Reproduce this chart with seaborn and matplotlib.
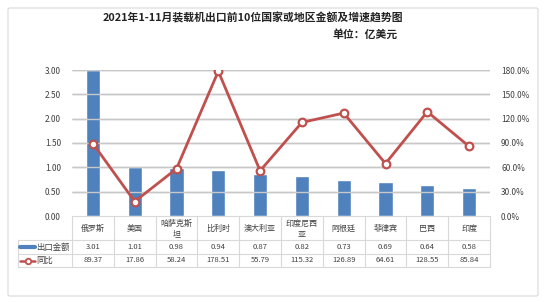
import matplotlib
matplotlib.use("Agg")
import matplotlib.pyplot as plt
import seaborn as sns
import numpy as np
import pandas as pd
from matplotlib.patches import FancyBboxPatch
from matplotlib.lines import Line2D
from matplotlib.ticker import FuncFormatter

categories = ["俄罗斯", "美国", "哈萨克斯\n坦", "比利时", "澳大利亚", "印度尼西\n亚", "阿根廷", "菲律宾", "巴西", "印度"]
export_values = [3.01, 1.01, 0.98, 0.94, 0.87, 0.82, 0.73, 0.69, 0.64, 0.58]
yoy_values = [89.37, 17.86, 58.24, 178.51, 55.79, 115.32, 126.89, 64.61, 128.55, 85.84]
series_names = ["出口金额", "同比"]
title = "2021年1-11月装载机出口前10位国家或地区金额及增速趋势图"
unit = "单位：亿美元"
left_ticks = [0.0, 0.5, 1.0, 1.5, 2.0, 2.5, 3.0]
right_ticks = [0, 30, 60, 90, 120, 150, 180]

sns.set_theme(style="white")
plt.rcParams['font.family'] = ['Noto Sans CJK SC', 'DejaVu Sans']

W, H = 550, 302
fig = plt.figure(figsize=(W/100, H/100), dpi=100)

def fx(px): return px / W
def fy(py): return 1 - py / H

L, R, T, B = 72, 490, 70, 216
ax = fig.add_axes([fx(L), fy(B), fx(R) - fx(L), fy(T) - fy(B)])
ax.set_facecolor("none")
df = pd.DataFrame({"cat": categories, "val": export_values, "yoy": yoy_values})
x = np.arange(len(categories))
sns.barplot(data=df, x="cat", y="val", color="#4F81BD", width=0.34, ax=ax, saturation=1, zorder=3)
ax.set_xlim(-0.5, len(categories) - 0.5)
ax.set_ylim(0, 3.0)
ax.set_yticks(left_ticks)
ax.yaxis.set_major_formatter(FuncFormatter(lambda v, p: f"{v:.2f}"))
ax.hlines(left_ticks[1:], -0.5, len(categories) - 0.5, colors="#BFBFBF", linewidth=1.0, zorder=2)
ax.set_xticks([])
ax.set_xlabel("")
ax.set_ylabel("")
for s in ax.spines.values():
    s.set_visible(False)
ax.tick_params(axis="y", length=0, labelsize=6, colors="#404040", pad=8)

ax2 = ax.twinx()
ax2.hlines(right_ticks[1:], -0.5, len(categories) - 0.5, colors="#C8C8C8", linewidth=1.0, zorder=1)
sns.lineplot(x=x, y=yoy_values, ax=ax2, color="#C0504D", linewidth=2.0, marker="o",
             markersize=5.5, markerfacecolor="white", markeredgecolor="#C0504D",
             markeredgewidth=1.6, zorder=5)
ax2.set_ylim(0, 180)
ax2.set_yticks(right_ticks)
ax2.yaxis.set_major_formatter(FuncFormatter(lambda v, p: f"{v:.1f}%"))
ax2.tick_params(axis="y", length=0, labelsize=6, colors="#404040", pad=8)
ax2.grid(False)
ax2.patch.set_visible(False)
for s in ax2.spines.values():
    s.set_visible(False)
ax2.set_xlim(-0.5, len(categories) - 0.5)

# outer frame
frame = FancyBboxPatch((fx(8), fy(296)), fx(538) - fx(8), fy(8) - fy(296),
                       boxstyle="round,pad=0,rounding_size=0.004", transform=fig.transFigure,
                       facecolor="none", edgecolor="#D9D9D9", linewidth=0.8)
fig.add_artist(frame)

# data table
grid_c = "#D9D9D9"
slot = (R - L) / len(categories)
row_y = [216, 240, 253.5, 267]
lw = 0.8
def hline(y, x0, x1):
    fig.add_artist(Line2D([fx(x0), fx(x1)], [fy(y), fy(y)], color=grid_c, linewidth=lw))
def vline(xp, y0, y1):
    fig.add_artist(Line2D([fx(xp), fx(xp)], [fy(y0), fy(y1)], color=grid_c, linewidth=lw))
hline(216, L, R)
for yy in row_y[1:]:
    hline(yy, 18, R)
for i in range(len(categories) + 1):
    vline(L + i * slot, 216, 267)
vline(18, 240, 267)

tc = "#404040"
for i, c in enumerate(categories):
    cx = L + (i + 0.5) * slot
    fig.text(fx(cx), fy(228.5), c, ha="center", va="center", fontsize=5.8, color=tc, linespacing=1.3)
    fig.text(fx(cx), fy(247), f"{export_values[i]:.2f}", ha="center", va="center", fontsize=5.5, color=tc)
    fig.text(fx(cx), fy(260.5), f"{yoy_values[i]:.2f}", ha="center", va="center", fontsize=5.5, color=tc)

# legend keys
fig.add_artist(Line2D([fx(20), fx(35)], [fy(247), fy(247)], color="#4F81BD", linewidth=3))
fig.add_artist(Line2D([fx(20), fx(35)], [fy(260.5), fy(260.5)], color="#C0504D", linewidth=1.8))
fig.add_artist(Line2D([fx(27.5)], [fy(260.5)], color="#C0504D", marker="o", markersize=4,
                      markerfacecolor="white", markeredgewidth=1.3))
fig.text(fx(36.5), fy(247), series_names[0], ha="left", va="center", fontsize=6, color=tc)
fig.text(fx(36.5), fy(260.5), series_names[1], ha="left", va="center", fontsize=6, color=tc)

# titles
fig.text(fx(253), fy(18), title, ha="center", va="center", fontsize=7.8, fontweight="bold", color="#222222")
fig.text(fx(398), fy(34), unit, ha="right", va="center", fontsize=7.8, fontweight="bold", color="#222222")

fig.savefig("out.png", dpi=100)
